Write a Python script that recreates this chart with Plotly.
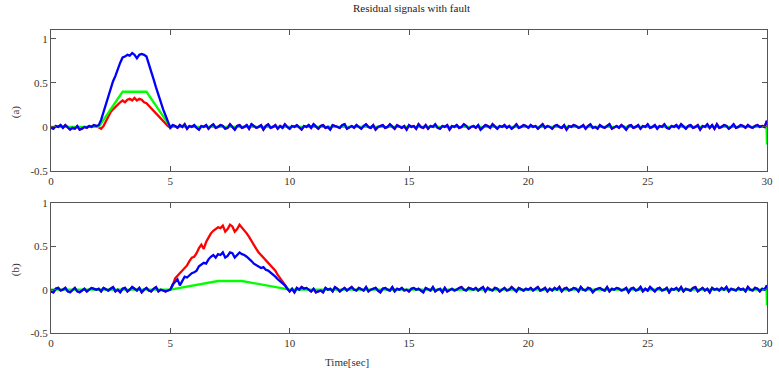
import plotly.graph_objects as go

# ---------------- data ----------------
DT = 0.1
# panel (a): noise in hundredths, t = 0.0 .. 1.9
NOISE_A_BEFORE = [-1, -2, 1, 0, 2, -1, 2, 0, -3, -1,
                  -2, 1, -3, -2, 0, -1, 1, 0, 2, 1]
# panel (a) fault window t = 2.0 .. 5.0
BLUE_A_FAULT = [0.02, 0.08, 0.17, 0.27, 0.36, 0.44, 0.52, 0.58, 0.66, 0.73,
                0.79, 0.80, 0.82, 0.81, 0.84, 0.82, 0.78, 0.82, 0.83, 0.82,
                0.80, 0.72, 0.63, 0.54, 0.45, 0.36, 0.28, 0.20, 0.13, 0.05, -0.01]
RED_A_FAULT = [-0.01, -0.02, 0.01, 0.07, 0.12, 0.17, 0.20, 0.23, 0.26, 0.28,
               0.30, 0.28, 0.31, 0.32, 0.30, 0.33, 0.30, 0.32, 0.31, 0.28,
               0.27, 0.24, 0.22, 0.19, 0.16, 0.12, 0.09, 0.06, 0.03, 0.01, -0.01]
# panel (a): noise in hundredths, t = 5.1 .. 30.0
NOISE_A_AFTER = [2, 1, -1, 2, 0, 3, -2, 1, 0,
                 2, -1, -3, 1, 0, 2, -2, 1, 3, -1,
                 0, 2, 1, -2, -1, 3, 0, -3, 1, 2,
                 -1, 0, 2, -2, 3, 1, -1, 0, 2, -3,
                 1, 3, -1, 0, 2, -2, 1, -1, 3, 0,
                 -2, 1, 0, 2, -1, -3, 1, 0, 2, -1,
                 3, 0, -2, 1, 2, -1, 0, -3, 2, 1,
                 0, -1, 2, 3, -2, 0, 1, -1, 2, 0,
                 -2, 1, 3, 0, -1, 2, -3, 0, 1, 2,
                 -1, 0, 3, 1, -2, 2, 0, -1, 1, -3,
                 2, 0, 1, -2, 3, 0, -1, 2, -2, 1,
                 0, 3, -1, -2, 1, 0, 2, -3, 1, 0,
                 2, -1, 0, 3, 1, -2, 0, 1, -1, 2,
                 -3, 0, 2, 1, -1, 3, 0, -2, 1, 0,
                 2, -1, 1, -2, 0, 3, -1, 0, 2, 1,
                 -1, 2, 0, 1, -2, 0, 3, -1, 1, 0,
                 -2, 1, 2, 0, -1, 2, -3, 1, 0, 2,
                 1, -1, 0, 2, -2, 1, 3, -1, 0, -2,
                 2, 0, -1, 1, 3, -2, 0, 1, -1, 2,
                 0, -3, 1, 2, -1, 0, 2, -2, 1, 0,
                 3, -1, 0, 2, -2, 1, 0, 3, -1, -2,
                 1, 0, 2, -1, 3, 0, -2, 1, 2, -1,
                 0, 2, -3, 1, 0, 3, -1, 2, -2, 3,
                 -1, 0, 2, 1, -2, 0, 3, -1, 0, 2,
                 1, -1, 2, 0, -1, 1, 2, 0, 1, 0,
                 7]
GREEN_A_T = [0, 2, 3, 4, 5, 29.98, 30]
GREEN_A_V = [0, 0, 0.40, 0.40, 0, 0, -0.20]

# panel (b): noise in hundredths, t = 0.0 .. 4.9
NOISE_B_BEFORE = [-2, -3, 1, 2, -1, 0, 2, -2, -3, 0,
                  2, -2, -3, -1, 1, -2, 0, 2, 1, 0,
                  1, -2, 2, 0, -1, 1, 3, -2, 0, -3,
                  1, 2, -2, 0, 3, 1, -1, 2, -3, 0,
                  2, -1, -2, 1, 3, -2, 0, -1, -2, -1]
# panel (b) fault window t = 5.0 .. 10.0
RED_B_FAULT = [0.00, 0.05, 0.13, 0.16, 0.19, 0.21, 0.24, 0.28, 0.33, 0.37,
               0.38, 0.42, 0.48, 0.52, 0.47, 0.55, 0.60, 0.65, 0.68, 0.70,
               0.72, 0.71, 0.74, 0.67, 0.70, 0.75, 0.73, 0.67, 0.70, 0.75,
               0.72, 0.68, 0.65, 0.61, 0.56, 0.51, 0.47, 0.43, 0.40, 0.36,
               0.34, 0.31, 0.28, 0.25, 0.22, 0.17, 0.13, 0.09, 0.05, 0.01, -0.02]
BLUE_B_FAULT = [0.00, 0.06, 0.09, 0.12, 0.05, 0.10, 0.15, 0.14, 0.17, 0.19,
                0.20, 0.22, 0.27, 0.29, 0.31, 0.30, 0.35, 0.38, 0.40, 0.37,
                0.41, 0.40, 0.43, 0.37, 0.39, 0.43, 0.42, 0.37, 0.40, 0.43,
                0.41, 0.40, 0.38, 0.36, 0.33, 0.30, 0.28, 0.27, 0.25, 0.26,
                0.23, 0.22, 0.20, 0.17, 0.15, 0.12, 0.10, 0.08, 0.05, 0.01, -0.02]
# panel (b): noise in hundredths, t = 10.1 .. 30.0
NOISE_B_AFTER = [1, -3, 2, 0, 3, 1, 2, 0, -2,
                 1, -3, -2, -1, -3, 2, 0, 1, -2, 3,
                 1, -2, 0, 2, -1, 1, 3, 0, -1, 2,
                 0, -1, 3, -2, 0, 1, 2, -1, -3, 1,
                 2, 0, -1, 3, -2, 1, 0, 2, -1, 0,
                 -2, 1, 2, 0, 1, -1, -3, 2, 0, -1,
                 3, -2, 0, 1, -3, 2, -2, 0, 1, -1,
                 0, 2, 3, 0, -1, 2, 1, 0, 2, -1,
                 1, 3, -2, 2, 0, -1, 2, 1, -2, 0,
                 2, -1, 0, 3, 1, -2, 2, 0, -1, 1,
                 0, 2, -1, 1, 3, -1, 0, 2, -2, 1,
                 -1, 2, 0, 3, -2, 1, 2, -1, 0, 2,
                 1, -2, 3, 0, -1, 2, 1, -3, 0, 1,
                 2, 0, -1, 3, -2, 1, 0, 2, 1, -1,
                 0, 2, -3, 1, 2, -1, 0, 3, -2, 1,
                 -1, 3, 0, -2, 1, 2, -1, 0, 2, -3,
                 1, 0, 2, -1, 3, -2, 1, 0, -1, 2,
                 3, -2, 0, 2, -1, 1, -3, 2, 0, 1,
                 -1, 2, 0, 3, -2, 1, 0, -1, 2, 0,
                 1, -2, 3, 0, -1, 2, 1, -2, 1, 0,
                 5]
GREEN_B_T = [0, 5, 7, 8, 10, 29.98, 30]
GREEN_B_V = [0, 0, 0.10, 0.10, 0, 0, -0.18]

X_TICKS = [0, 5, 10, 15, 20, 25, 30]
Y_TICKS = [-0.5, 0, 0.5, 1]
Y_TICK_TEXT = ["-0.5", "0", "0.5", "1"]

# ---------------- assemble series ----------------
def h(vals):
    return [v / 100 for v in vals]

blue_a = h(NOISE_A_BEFORE) + BLUE_A_FAULT + h(NOISE_A_AFTER)
red_a = h(NOISE_A_BEFORE) + RED_A_FAULT + h(NOISE_A_AFTER)
blue_b = h(NOISE_B_BEFORE) + BLUE_B_FAULT + h(NOISE_B_AFTER)
red_b = h(NOISE_B_BEFORE) + RED_B_FAULT + h(NOISE_B_AFTER)
assert len(blue_a) == 301, len(blue_a)
assert len(blue_b) == 301, len(blue_b)
t = [round(i * DT, 1) for i in range(301)]

RED, GREEN, BLUE = "#ff0000", "#00ff00", "#0000ff"
LW = 2.3
FONT = "Liberation Serif"

fig = go.Figure()
# panel (a)
fig.add_trace(go.Scatter(x=t, y=red_a, mode="lines", line=dict(color=RED, width=LW), xaxis="x", yaxis="y"))
fig.add_trace(go.Scatter(x=GREEN_A_T, y=GREEN_A_V, mode="lines", line=dict(color=GREEN, width=LW), xaxis="x", yaxis="y"))
fig.add_trace(go.Scatter(x=t, y=blue_a, mode="lines", line=dict(color=BLUE, width=LW), xaxis="x", yaxis="y"))
# panel (b)
fig.add_trace(go.Scatter(x=t, y=red_b, mode="lines", line=dict(color=RED, width=LW), xaxis="x2", yaxis="y2"))
fig.add_trace(go.Scatter(x=GREEN_B_T, y=GREEN_B_V, mode="lines", line=dict(color=GREEN, width=LW), xaxis="x2", yaxis="y2"))
fig.add_trace(go.Scatter(x=t, y=blue_b, mode="lines", line=dict(color=BLUE, width=LW), xaxis="x2", yaxis="y2"))

axis_common = dict(showline=True, linecolor="#555555", linewidth=1, mirror="ticks",
                   ticks="inside", ticklen=5, tickcolor="#555555", showgrid=False,
                   zeroline=False, tickfont=dict(family=FONT, size=11, color="#333333"))

TOP_DOM = [0.535, 1.0]
BOT_DOM = [0.0, 0.429]

fig.update_layout(
    width=779, height=368,
    margin=dict(l=51, r=6, t=30, b=35),
    paper_bgcolor="white", plot_bgcolor="white",
    showlegend=False,
    xaxis=dict(domain=[0, 1], range=[0, 30], tickvals=X_TICKS, anchor="y", **axis_common),
    yaxis=dict(domain=TOP_DOM, range=[-0.5, 1.102], tickvals=Y_TICKS, ticktext=Y_TICK_TEXT, anchor="x", **axis_common),
    xaxis2=dict(domain=[0, 1], range=[0, 30], tickvals=X_TICKS, anchor="y2", **axis_common),
    yaxis2=dict(domain=BOT_DOM, range=[-0.5, 1.0], tickvals=Y_TICKS, ticktext=Y_TICK_TEXT, anchor="x2", **axis_common),
    annotations=[
        dict(text="Residual signals with fault", xref="paper", yref="paper", x=0.503, y=1.072,
             showarrow=False, xanchor="center", yanchor="middle", font=dict(family=FONT, size=11, color="#222222")),
        dict(text="Time[sec]", xref="paper", yref="paper", x=0.413, y=-0.096,
             showarrow=False, xanchor="center", yanchor="middle", font=dict(family=FONT, size=11, color="#333333")),
        dict(text="(a)", xref="paper", yref="paper", x=-0.05, y=(333 - 112) / 303,
             showarrow=False, textangle=-90, xanchor="center", yanchor="middle", font=dict(family=FONT, size=11, color="#333333")),
        dict(text="(b)", xref="paper", yref="paper", x=-0.05, y=(333 - 270) / 303,
             showarrow=False, textangle=-90, xanchor="center", yanchor="middle", font=dict(family=FONT, size=11, color="#333333")),
    ],
)

fig.write_html("out.html")
